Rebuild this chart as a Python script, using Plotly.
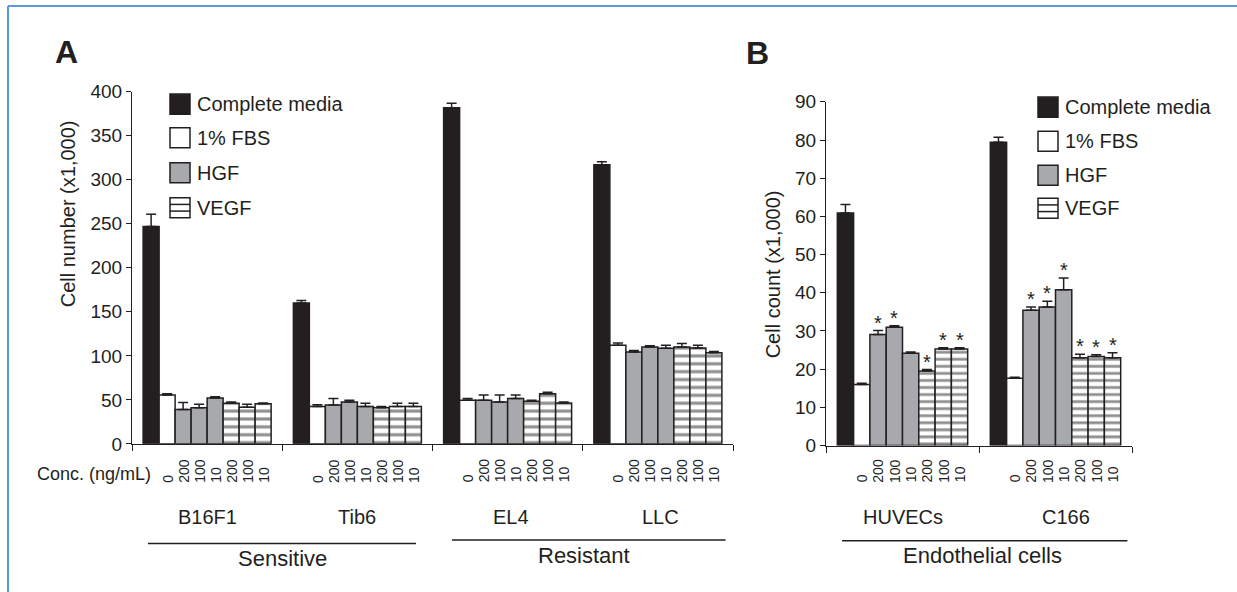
import plotly.graph_objects as go

FONT = "Liberation Sans, Arial, Helvetica, sans-serif"
INK = "#231f20"
GREY = "#a7a9ac"
BLUE = "#5b9bd5"

# ---------------- data ----------------
legend_names = ["Complete media", "1% FBS", "HGF", "VEGF"]
bar_type = [0, 1, 2, 2, 2, 3, 3, 3]          # which treatment each of the 8 bars is
conc_labels = ["", "0", "200", "100", "10", "200", "100", "10"]

cells_A = ["B16F1", "Tib6", "EL4", "LLC"]
supergroups_A = ["Sensitive", "Resistant"]
b16f1_vals = [247, 55.5, 39, 41, 52, 46, 41.5, 45.5]
b16f1_err = [14, 1.5, 8, 4, 1.5, 1.5, 3.5, 1]
tib6_vals = [160, 42.5, 44, 47.5, 42.5, 41, 42.5, 42.5]
tib6_err = [3, 2, 7.5, 2, 3.5, 1.5, 3.5, 3.5]
el4_vals = [382, 49.5, 49.5, 47.5, 51.5, 48.5, 57, 46.5]
el4_err = [5, 2, 6, 8, 4, 1, 1.5, 1]
llc_vals = [317, 112, 104.5, 110, 108.5, 110, 109, 103.5]
llc_err = [3.5, 2.5, 1.5, 1.5, 3.5, 4, 3, 1.5]

cells_B = ["HUVECs", "C166"]
supergroups_B = ["Endothelial cells"]
huvec_vals = [60.9, 16.0, 29.1, 31.0, 24.2, 19.5, 25.3, 25.3]
huvec_err = [2.2, 0.3, 1.0, 0.4, 0.3, 0.4, 0.3, 0.3]
huvec_star = [0, 0, 1, 1, 0, 1, 1, 1]
c166_vals = [79.4, 17.6, 35.4, 36.3, 40.8, 23.0, 23.3, 23.0]
c166_err = [1.3, 0.3, 0.9, 1.5, 3.1, 0.9, 0.5, 1.3]
c166_star = [0, 0, 1, 1, 1, 1, 1, 1]

yticks_A = [0, 50, 100, 150, 200, 250, 300, 350, 400]
yticks_B = [0, 10, 20, 30, 40, 50, 60, 70, 80, 90]

panel_A_vals = [b16f1_vals, tib6_vals, el4_vals, llc_vals]
panel_A_err = [b16f1_err, tib6_err, el4_err, llc_err]
panel_B_vals = [huvec_vals, c166_vals]
panel_B_err = [huvec_err, c166_err]
panel_B_star = [huvec_star, c166_star]

# ---------------- geometry helpers ----------------
W = 1237
VS, VOFF = 0.964, 10.0          # vertical mapping observed for the photographed page
H = 604                          # page height needed to reach the bottom of the picture
BW = 0.1065                      # bar width in category units


def px(x):
    return x / W


def Y(y):                         # picture pixel -> page pixel
    return (y - VOFF) / VS


def py(y):                        # picture pixel -> paper fraction
    return 1 - Y(y) / H


def bar_x(g, j):
    return g + 0.5 + (j - 3.5) * BW


fills = [INK, "white", GREY, "white"]

fig = go.Figure()


def add_panel(vals_list, err_list, xa, ya, pat_size):
    for t in range(4):
        xs, ys, es = [], [], []
        for g, (vals, errs) in enumerate(zip(vals_list, err_list)):
            for j in range(8):
                if bar_type[j] == t:
                    xs.append(bar_x(g, j))
                    ys.append(vals[j])
                    es.append(errs[j])
        marker = dict(color=fills[t], line=dict(color=INK, width=1.5))
        if t == 3:
            marker["pattern"] = dict(shape="-", fgcolor=INK, bgcolor="white",
                                     size=pat_size, solidity=0.4, fillmode="overlay")
        fig.add_trace(go.Bar(
            x=xs, y=ys, width=BW, marker=marker, name=legend_names[t],
            showlegend=False, xaxis=xa, yaxis=ya, hoverinfo="skip",
            error_y=dict(type="data", array=es, arrayminus=[0] * len(es),
                         symmetric=False, color=INK, thickness=1.5, width=5),
        ))


add_panel(panel_A_vals, panel_A_err, "x", "y", 7.6 / VS)
add_panel(panel_B_vals, panel_B_err, "x2", "y2", 6.8 / VS)

annotations = []
shapes = []

# stars in panel B
for g, (vals, errs, stars) in enumerate(zip(panel_B_vals, panel_B_err, panel_B_star)):
    for j in range(8):
        if stars[j]:
            annotations.append(dict(x=bar_x(g, j), y=vals[j] + errs[j], xref="x2", yref="y2",
                                    text="*", showarrow=False, yanchor="middle", yshift=8,
                                    font=dict(size=20, color=INK, family=FONT)))

# concentration labels
for xref, ncells in (("x", len(cells_A)), ("x2", len(cells_B))):
    for g in range(ncells):
        for j in range(1, 8):
            annotations.append(dict(x=bar_x(g, j), y=py(484), xref=xref, yref="paper",
                                    text=conc_labels[j], showarrow=False, textangle=-90,
                                    xanchor="center", yanchor="bottom",
                                    font=dict(size=14, color=INK, family=FONT)))

annotations.append(dict(x=px(153), y=py(473), xref="paper", yref="paper", text="Conc. (ng/mL)",
                        showarrow=False, xanchor="right", yanchor="middle",
                        font=dict(size=18, color=INK, family=FONT)))

# cell line labels
cellA_x = [0.5, 1.5, 2.52, 3.52]
for name, cx in zip(cells_A, cellA_x):
    annotations.append(dict(x=cx, y=py(516), xref="x", yref="paper", text=name, showarrow=False,
                            xanchor="center", yanchor="middle", font=dict(size=20, color=INK, family=FONT)))
cellB_x = [0.5, 1.57]
for name, cx in zip(cells_B, cellB_x):
    annotations.append(dict(x=cx, y=py(516), xref="x2", yref="paper", text=name, showarrow=False,
                            xanchor="center", yanchor="middle", font=dict(size=20, color=INK, family=FONT)))

# supergroup labels and lines
sg = [("x", supergroups_A[0], 0.106, 1.89, 542.7, 1.0, 558),
      ("x", supergroups_A[1], 2.13, 3.95, 539.3, 3.01, 555),
      ("x2", supergroups_B[0], 0.105, 1.97, 540, 1.02, 555)]
for xref, text, x0, x1, ly, tx, ty in sg:
    shapes.append(dict(type="line", xref=xref, yref="paper", x0=x0, x1=x1, y0=py(ly), y1=py(ly),
                       line=dict(color=INK, width=1.5)))
    annotations.append(dict(x=tx, y=py(ty), xref=xref, yref="paper", text=text, showarrow=False,
                            xanchor="center", yanchor="middle", font=dict(size=22, color=INK, family=FONT)))

# y-axis titles
annotations.append(dict(x=px(68), y=py(214), xref="paper", yref="paper", text="Cell number (x1,000)",
                        showarrow=False, textangle=-90, xanchor="center", yanchor="middle",
                        font=dict(size=20, color=INK, family=FONT)))
annotations.append(dict(x=px(773), y=py(274), xref="paper", yref="paper", text="Cell count (x1,000)",
                        showarrow=False, textangle=-90, xanchor="center", yanchor="middle",
                        font=dict(size=20, color=INK, family=FONT)))

# panel letters
for letter, lx, ly in (("A", 66.5, 52), ("B", 757, 53)):
    annotations.append(dict(x=px(lx), y=py(ly), xref="paper", yref="paper", text="<b>%s</b>" % letter,
                            showarrow=False, xanchor="center", yanchor="middle",
                            font=dict(size=32, color=INK, family=FONT)))

# legends (manual)
for lx, rows in ((170, [104, 137.5, 172.5, 207.5]), (1038, [107, 141, 175, 208])):
    for t, cy in enumerate(rows):
        shapes.append(dict(type="rect", xref="paper", yref="paper",
                           x0=px(lx), x1=px(lx + 20), y0=py(cy + 10), y1=py(cy - 10),
                           fillcolor=fills[t], line=dict(color=INK, width=1.5)))
        if t == 3:
            for f in (1 / 3, 2 / 3):
                yy = cy - 10 + 20 * f
                shapes.append(dict(type="line", xref="paper", yref="paper",
                                   x0=px(lx), x1=px(lx + 20), y0=py(yy), y1=py(yy),
                                   line=dict(color=INK, width=1.5)))
        annotations.append(dict(x=px(lx + 25), y=py(cy), xref="paper", yref="paper",
                                text=legend_names[t], showarrow=False, xanchor="left", yanchor="middle",
                                font=dict(size=20, color=INK, family=FONT)))

# blue frame (top and left)
shapes.append(dict(type="line", xref="paper", yref="paper", x0=px(8), x1=1, y0=py(6), y1=py(6),
                   line=dict(color=BLUE, width=2)))
shapes.append(dict(type="line", xref="paper", yref="paper", x0=px(8), x1=px(8), y0=py(6), y1=0,
                   line=dict(color=BLUE, width=2)))

xcommon = dict(showgrid=False, zeroline=False, showline=True, linecolor=INK, linewidth=1,
               ticks="outside", ticklen=6, tickwidth=1, tickcolor=INK, showticklabels=False)
ycommon = dict(showgrid=False, zeroline=False, showline=True, linecolor=INK, linewidth=1,
               ticks="outside", ticklen=5, tickwidth=1, tickcolor=INK,
               tickfont=dict(size=19, color=INK, family=FONT))

fig.update_layout(
    width=W, height=H, autosize=False,
    margin=dict(l=0, r=0, t=0, b=0),
    paper_bgcolor="white", plot_bgcolor="white",
    barmode="overlay", showlegend=False,
    font=dict(family=FONT, color=INK),
    xaxis=dict(domain=[px(132), px(733)], range=[0, len(cells_A)],
               tickvals=list(range(len(cells_A) + 1)), anchor="y", **xcommon),
    yaxis=dict(domain=[py(443.3), py(91.7)], range=[0, 400], tickvals=yticks_A, anchor="x", **ycommon),
    xaxis2=dict(domain=[px(826), px(1132)], range=[0, len(cells_B)],
                tickvals=list(range(len(cells_B) + 1)), anchor="y2", **xcommon),
    yaxis2=dict(domain=[py(445), py(101.7)], range=[0, 90], tickvals=yticks_B, anchor="x2", **ycommon),
    annotations=annotations,
    shapes=shapes,
)

PAGE_JS = (
    "var gd=document.getElementById('{plot_id}');"
    "var de=document.documentElement, bd=document.body;"
    "de.style.margin='0';de.style.padding='0';de.style.overflow='hidden';"
    "bd.style.margin='0';bd.style.padding='0';bd.style.overflow='hidden';"
    "gd.style.position='fixed';gd.style.left='0px';gd.style.top='0px';"
)

fig.write_html("out.html", config={"displayModeBar": False}, post_script=PAGE_JS)
